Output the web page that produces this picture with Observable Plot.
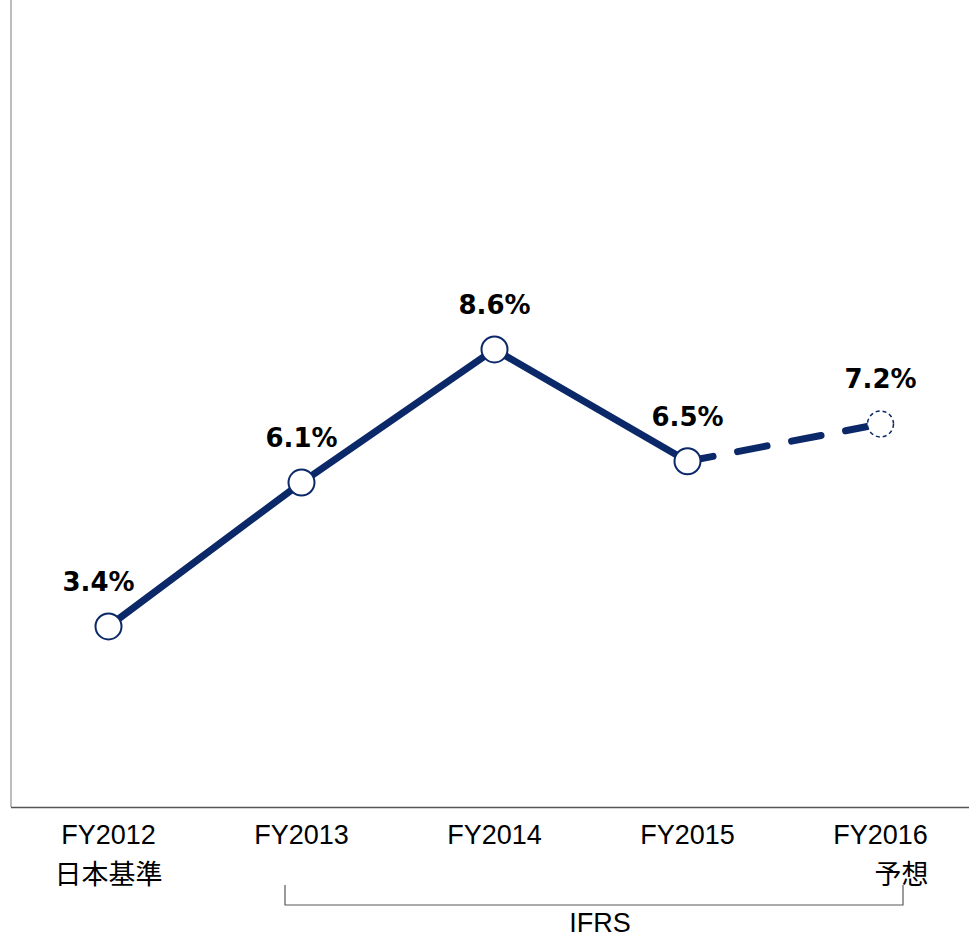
<!DOCTYPE html>
<html>
<head>
<meta charset="utf-8">
<script src="https://cdn.jsdelivr.net/npm/d3@7"></script>
<script src="https://cdn.jsdelivr.net/npm/@observablehq/plot@0.6"></script>
<style>
  html, body { margin: 0; padding: 0; background: #fff; }
</style>
</head>
<body>
<div id="chart"></div>
<script>
const categories = ["FY2012", "FY2013", "FY2014", "FY2015", "FY2016"];
const values = [3.4, 6.1, 8.6, 6.5, 7.2];
const subLabels = ["日本基準", "", "", "", "予想"];
const forecastFlags = [false, false, false, false, true];
const groupLabel = "IFRS";
const groupStart = "FY2013";
const groupEnd = "FY2016";

const navy = "#0b2868";
const tickFont = "'Liberation Sans', 'Noto Sans CJK JP', sans-serif";

const data = categories.map((c, i) => ({cat: c, value: values[i], sub: subLabels[i], forecast: forecastFlags[i]}));
const actual = data.filter(d => !d.forecast);
const lastActual = actual[actual.length - 1];
const forecast = data.filter(d => d.forecast);
const dashedSeg = [lastActual, ...forecast];

function leftLine(index, scales, values, dims) {
  const ns = "http://www.w3.org/2000/svg";
  const l = document.createElementNS(ns, "line");
  l.setAttribute("x1", dims.marginLeft);
  l.setAttribute("x2", dims.marginLeft);
  l.setAttribute("y1", dims.marginTop);
  l.setAttribute("y2", dims.height - dims.marginBottom);
  l.setAttribute("stroke", "#a6a6a6");
  l.setAttribute("stroke-width", 1.5);
  return l;
}

function bracket(index, scales, values, dims) {
  const ns = "http://www.w3.org/2000/svg";
  const g = document.createElementNS(ns, "g");
  const base = dims.height - dims.marginBottom;
  const x1 = scales.x(groupStart) - 16;
  const x2 = scales.x(groupEnd) + 23;
  const yTop = base + 78, yBot = base + 98;
  const p = document.createElementNS(ns, "path");
  p.setAttribute("d", `M${x1},${yTop}V${yBot}H${x2}V${yTop}`);
  p.setAttribute("fill", "none");
  p.setAttribute("stroke", "#595959");
  p.setAttribute("stroke-width", 1.2);
  g.appendChild(p);
  const t = document.createElementNS(ns, "text");
  t.setAttribute("x", (x1 + x2) / 2 + 6);
  t.setAttribute("y", base + 118);
  t.setAttribute("text-anchor", "middle");
  t.setAttribute("dominant-baseline", "middle");
  t.setAttribute("font-size", 27);
  t.setAttribute("font-family", tickFont);
  t.setAttribute("fill", "#000");
  t.textContent = groupLabel;
  g.appendChild(t);
  return g;
}

const labelStyle = {x: "cat", y: "value", text: d => d.value.toFixed(1) + "%", dy: -44, fontSize: 26, fontWeight: "bold", fontFamily: "'DejaVu Sans', sans-serif", fill: "#000", lineAnchor: "middle"};

const chart = Plot.plot({
  width: 969,
  height: 938,
  marginLeft: 11,
  marginRight: 0,
  marginTop: 0,
  marginBottom: 131,
  x: {type: "point", domain: categories, range: [107.5, 879.5], padding: 0, axis: null},
  y: {domain: [0, 15.15], axis: null},
  style: {background: "#fff", overflow: "visible"},
  marks: [
    leftLine,
    Plot.ruleY([0], {stroke: "#555", strokeWidth: 1.5}),
    Plot.line(actual, {x: "cat", y: "value", stroke: navy, strokeWidth: 7}),
    Plot.line(dashedSeg, {x: "cat", y: "value", stroke: navy, strokeWidth: 7, strokeDasharray: "30,25", strokeDashoffset: 4}),
    Plot.dot(actual, {x: "cat", y: "value", r: 13, fill: "white", stroke: navy, strokeWidth: 2}),
    Plot.dot(forecast, {x: "cat", y: "value", r: 13, fill: "white", stroke: navy, strokeWidth: 1.5, strokeDasharray: "4,3"}),
    Plot.text(data.slice(0, 1), {...labelStyle, dx: -10}),
    Plot.text(data.slice(1), labelStyle),
    Plot.text(data, {x: "cat", frameAnchor: "bottom", text: "cat", dy: 28, fontSize: 27, fontFamily: tickFont, fill: "#000", lineAnchor: "middle"}),
    Plot.text(actual.filter(d => d.sub), {x: "cat", frameAnchor: "bottom", text: "sub", dy: 68, fontSize: 27, fontFamily: tickFont, fill: "#000", lineAnchor: "middle"}),
    Plot.text(forecast.filter(d => d.sub), {x: "cat", frameAnchor: "bottom", text: "sub", dy: 68, dx: 48, textAnchor: "end", fontSize: 27, fontFamily: tickFont, fill: "#000", lineAnchor: "middle"}),
    bracket
  ]
});
document.getElementById("chart").appendChild(chart);
</script>
</body>
</html>
